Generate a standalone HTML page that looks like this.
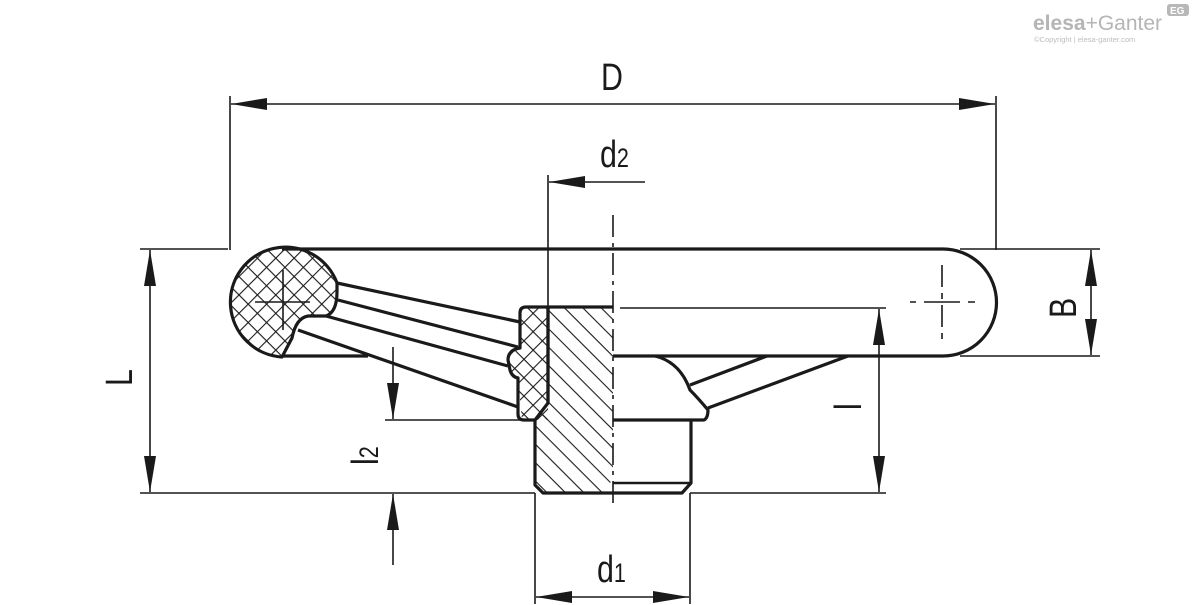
<!DOCTYPE html>
<html><head><meta charset="utf-8"><style>
html,body{margin:0;padding:0;background:#fff;width:1200px;height:605px;overflow:hidden}
svg{display:block}
text{font-family:"Liberation Sans",sans-serif;fill:#1a1a1a}
</style></head><body>
<svg width="1200" height="605" viewBox="0 0 1200 605" xmlns="http://www.w3.org/2000/svg">
<defs>
<pattern id="xh" width="13" height="13" patternUnits="userSpaceOnUse" patternTransform="rotate(45)">
<path d="M0 0H13M0 0V13" stroke="#1a1a1a" stroke-width="2.2" fill="none"/>
</pattern>
<pattern id="dh" width="13" height="13" patternUnits="userSpaceOnUse" patternTransform="rotate(45)">
<path d="M0 0H13" stroke="#1a1a1a" stroke-width="2.2" fill="none"/>
</pattern>
<marker id="a" viewBox="0 0 36 12" refX="36" refY="6" markerWidth="36" markerHeight="12" markerUnits="userSpaceOnUse" orient="auto-start-reverse">
<path d="M0 0L36 6L0 12Z" fill="#1a1a1a"/>
</marker>
</defs>

<g stroke="#1a1a1a" fill="none">
<g stroke-width="1.6">
<line x1="230" y1="96" x2="230" y2="250"/>
<line x1="996" y1="96" x2="996" y2="250"/>
<line x1="231" y1="104" x2="995" y2="104" marker-start="url(#a)" marker-end="url(#a)"/>
<line x1="548" y1="175" x2="548" y2="307"/>
<line x1="645" y1="182" x2="549" y2="182" marker-end="url(#a)"/>
<line x1="140" y1="249" x2="228" y2="249"/>
<line x1="140" y1="493" x2="535" y2="493"/>
<line x1="150" y1="250" x2="150" y2="492" marker-start="url(#a)" marker-end="url(#a)"/>
<line x1="960" y1="249" x2="1100" y2="249"/>
<line x1="960" y1="356" x2="1100" y2="356"/>
<line x1="1091" y1="250" x2="1091" y2="355" marker-start="url(#a)" marker-end="url(#a)"/>
<line x1="620" y1="308" x2="886" y2="308"/>
<line x1="690" y1="493" x2="886" y2="493"/>
<line x1="879" y1="309" x2="879" y2="492" marker-start="url(#a)" marker-end="url(#a)"/>
<line x1="385" y1="420" x2="520" y2="420"/>
<line x1="393" y1="347" x2="393" y2="419" marker-end="url(#a)"/>
<line x1="393" y1="565" x2="393" y2="494" marker-end="url(#a)"/>
<line x1="535" y1="493" x2="535" y2="604"/>
<line x1="690" y1="493" x2="690" y2="604"/>
<line x1="536" y1="597" x2="689" y2="597" marker-start="url(#a)" marker-end="url(#a)"/>
<line x1="613" y1="215" x2="613" y2="505" stroke-dasharray="22,6,4,6"/>
<line x1="283" y1="270" x2="283" y2="330"/>
<line x1="255" y1="302" x2="310" y2="302"/>
<line x1="910" y1="302" x2="975" y2="302" stroke-dasharray="6,8,30,0"/>
<line x1="942" y1="265" x2="942" y2="340" stroke-dasharray="22,6,6,6"/>
</g>

<path d="M337 283 A55 55 0 1 0 282 357 L292 338 Q296 318 308 316 L326 316 Q337 312 337 292 Z" fill="url(#xh)" stroke="none"/>
<path d="M522 307 L548 307 L548 420 L522 420 L518 378 L508 372 L508 355 L518 350 Z" fill="url(#xh)" stroke="none"/>
<path d="M548 307 L613 307 L613 480 L600 493 L543 493 L535 485 L535 420 L548 403 Z" fill="url(#dh)" stroke="none"/>

<g stroke-width="3.2" stroke-linejoin="round">
<path d="M337 283 A55 55 0 1 0 282 357 L292 338 Q296 318 308 316 L326 316 Q337 312 337 292 Z"/>
<line x1="282" y1="249" x2="943" y2="249"/>
<path d="M943 249 A53.5 53.5 0 0 1 943 356"/>
<line x1="613" y1="356" x2="943" y2="356"/>
<line x1="282" y1="356" x2="368" y2="356"/>
<path d="M337 283 L520 322"/>
<path d="M338 300 L518 347"/>
<path d="M326 316 L508 366"/>
<path d="M298 330 L518 407"/>
<path d="M526 307 L613 307 M526 307 Q520 307 520 313 L520 348 Q508 350 508 360 L510 370 Q512 377 518 378 L518 414 Q518 420 524 420 L535 420 L548 403 L548 307"/>
<line x1="548" y1="307" x2="548" y2="403"/>
<path d="M535 420 L535 485 L543 493 L682 493 L691 483 L691 420"/>
<path d="M613 420 L704 420 Q708 418 708 410 Q698 398 690 390 Q680 362 655 356"/>
<line x1="613" y1="483" x2="691" y2="483" stroke-width="2.6"/>
<path d="M690 385 L767 356"/>
<path d="M708 408 L848 356"/>
</g>
</g>

<g font-size="38">
<text x="601" y="90" transform="translate(601 0) scale(0.8 1) translate(-601 0)">D</text>
<text x="600" y="167" transform="translate(600 0) scale(0.8 1) translate(-600 0)">d<tspan font-size="27">2</tspan></text>
<text x="597" y="582" transform="translate(597 0) scale(0.8 1) translate(-597 0)">d<tspan font-size="27">1</tspan></text>
<text transform="translate(132 386) rotate(-90) scale(0.8 1)">L</text>
<text transform="translate(1076 318) rotate(-90) scale(0.8 1)">B</text>
<text transform="translate(861 410) rotate(-90) scale(0.8 1)">l</text>
<text transform="translate(378 465) rotate(-90) scale(0.8 1)">l<tspan font-size="27">2</tspan></text>
</g>

<g fill="#b8b8b8">
<text x="1033" y="30" font-size="21" font-weight="bold" style="fill:#b5b5b5">elesa<tspan font-weight="normal">+Ganter</tspan></text>
<text x="1034" y="42" font-size="7.5" style="fill:#bdbdbd">©Copyright | elesa-ganter.com</text>
<rect x="1167" y="4" width="22" height="12" rx="3"/>
<text x="1170" y="14" font-size="10" font-weight="bold" style="fill:#fff">EG</text>
</g>
</svg>
</body></html>
